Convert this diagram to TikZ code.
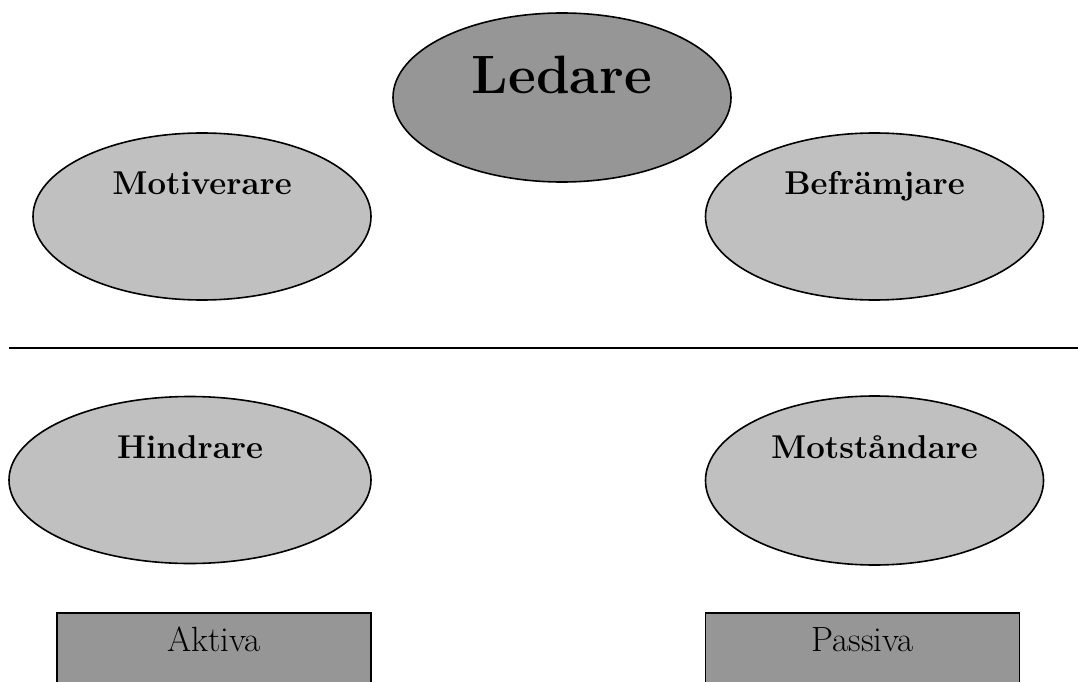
\documentclass[tikz,border=0pt]{standalone}
\usetikzlibrary{shapes.geometric}
\definecolor{darkfill}{RGB}{150,150,150}
\definecolor{lightfill}{RGB}{192,192,192}
\begin{document}
\begin{tikzpicture}[x=1pt, y=-1pt,
  leadoval/.style={draw, ellipse, line width=1.6pt, fill=darkfill, inner sep=0pt, minimum width=338pt, minimum height=169pt, text height=36pt, text depth=44pt, font=\fontsize{54}{60}\selectfont\bfseries},
  roleoval/.style={draw, ellipse, line width=1.6pt, fill=lightfill, inner sep=0pt, minimum width=338pt, minimum height=167pt, text height=21pt, text depth=65pt, font=\fontsize{33}{38}\selectfont\bfseries},
  typebox/.style={draw, rectangle, line width=1.6pt, fill=darkfill, inner sep=0pt, minimum width=314pt, text height=39pt, text depth=51pt, anchor=north, font=\fontsize{35}{40}\selectfont}]
\useasboundingbox (0,0) rectangle (1078,682);
\node  (1)[leadoval] at (562,97.5)  {Ledare};
\node  (2)[roleoval] at (202,216.5) {Motiverare};
\node  (3)[roleoval] at (874.5,216.5) {Befrämjare};
\node  (4)[roleoval, minimum width=362pt] at (190,480) {Hindrare};
\node  (5)[roleoval, minimum height=169pt] at (874.5,480.5) {Motståndare};
\node  (6)[typebox] at (214,612) {Aktiva};
\node  (7)[typebox] at (862.5,612) {Passiva};
% skiljelinje
\coordinate (L) at (9,348);
\coordinate (R) at (1078,348);
\draw[line width=1.6pt] (L) -- (R);
\end{tikzpicture}
\end{document}
